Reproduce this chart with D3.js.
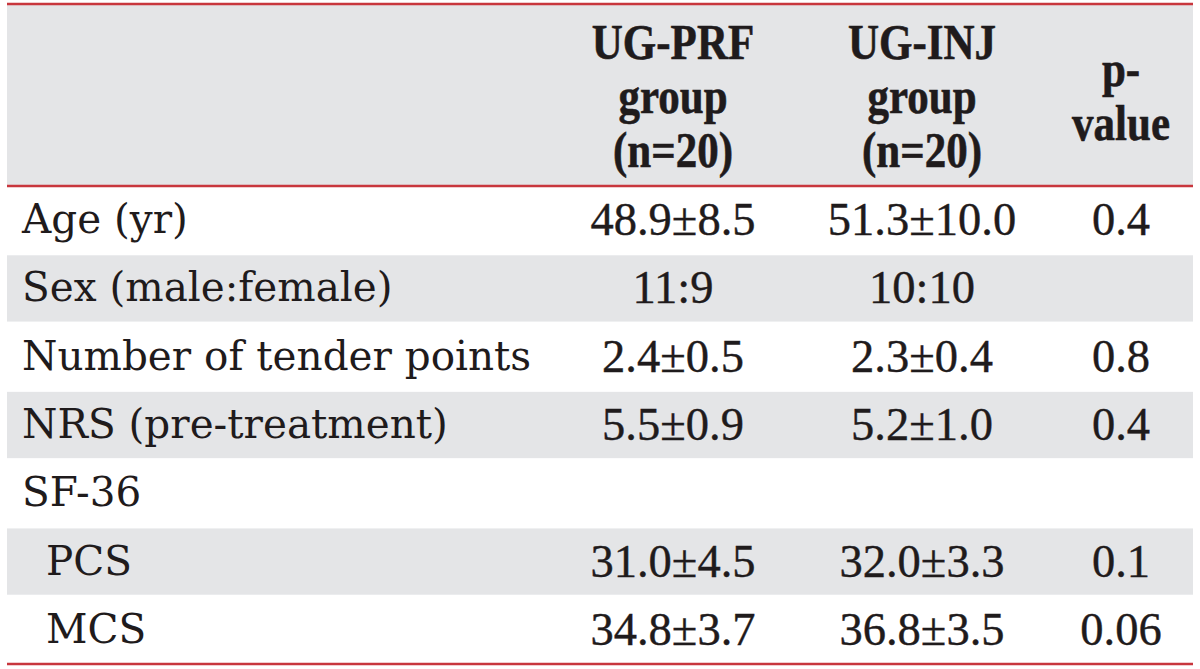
<!DOCTYPE html>
<html>
<head>
<meta charset="utf-8">
<script src="https://cdn.jsdelivr.net/npm/d3@7"></script>
<style>
  html, body { margin: 0; padding: 0; background: #ffffff; }
  svg { display: block; }
</style>
</head>
<body>
<svg id="chart" width="1200" height="669"></svg>
<script>
// ---- data ----
const rowLabels = ["Age (yr)", "Sex (male:female)", "Number of tender points", "NRS (pre-treatment)", "SF-36", "PCS", "MCS"];
const subRows = ["PCS", "MCS"];
const prfGroup = ["48.9±8.5", "11:9", "2.4±0.5", "5.5±0.9", "", "31.0±4.5", "34.8±3.7"];
const injGroup = ["51.3±10.0", "10:10", "2.3±0.4", "5.2±1.0", "", "32.0±3.3", "36.8±3.5"];
const pValues = ["0.4", "", "0.8", "0.4", "", "0.1", "0.06"];
const columnKeys = ["prf", "inj", "p"];
const headerLines = [["UG-PRF", "group", "(n=20)"], ["UG-INJ", "group", "(n=20)"], ["p-", "value"]];

// ---- layout ----
const svg = d3.select("#chart");
const left = 7, right = 1193;
const headerTop = 4, headerBottom = 186, tableBottom = 664;
const gray = "#e4e5e7", red = "#c8363d", ink = "#1f1b1c";

const yRow = d3.scaleBand().domain(d3.range(rowLabels.length)).range([headerBottom, tableBottom]).padding(0);
const xCol = d3.scaleOrdinal().domain(columnKeys).range([673, 922, 1121]);

// header background
svg.append("rect").attr("x", left).attr("y", headerTop).attr("width", right - left)
  .attr("height", headerBottom - headerTop).attr("fill", gray);

// body row backgrounds (alternate)
svg.append("g").selectAll("rect").data(rowLabels).join("rect")
  .attr("x", left).attr("width", right - left)
  .attr("y", (d, i) => yRow(i) + 1).attr("height", yRow.bandwidth() - 2)
  .attr("fill", (d, i) => i % 2 === 1 ? gray : "#ffffff");

// header text (condensed bold)
const headerLineH = 54;
const headerCenter = (headerTop + headerBottom) / 2;
const hScale = 0.86;
const hg = svg.append("g").attr("font-family", "'Liberation Serif', 'Times New Roman', serif")
  .attr("font-weight", "bold").attr("font-size", 50).attr("fill", ink).attr("text-anchor", "middle")
  .attr("stroke", ink).attr("stroke-width", 0.6);
headerLines.forEach((lines, ci) => {
  const n = lines.length;
  const cx = xCol(columnKeys[ci]);
  hg.selectAll(null).data(lines).join("text")
    .attr("transform", (d, li) => `translate(${cx},${headerCenter + 18 + (li - (n - 1) / 2) * headerLineH}) scale(${hScale},1)`)
    .text(d => d);
});

// row labels
svg.append("g").attr("font-family", "'DejaVu Serif', serif").attr("font-size", 40.5).attr("fill", ink)
  .selectAll("text").data(rowLabels).join("text")
  .attr("x", d => subRows.includes(d) ? 46 : 22)
  .attr("y", (d, i) => yRow(i) + yRow.bandwidth() / 2 + 13)
  .text(d => d);

// values
const cols = [prfGroup, injGroup, pValues];
const vg = svg.append("g").attr("font-family", "'Liberation Serif', 'Times New Roman', serif")
  .attr("font-size", 46.5).attr("fill", ink).attr("text-anchor", "middle")
  .attr("stroke", ink).attr("stroke-width", 0.4);
cols.forEach((vals, ci) => {
  vg.selectAll(null).data(vals).join("text")
    .attr("x", xCol(columnKeys[ci]))
    .attr("y", (d, i) => yRow(i) + yRow.bandwidth() / 2 + 15)
    .text(d => d);
});

// red rules
const rules = [headerTop, headerBottom, tableBottom];
svg.append("g").selectAll("line").data(rules).join("line")
  .attr("x1", left).attr("x2", right)
  .attr("y1", d => d).attr("y2", d => d)
  .attr("stroke", red).attr("stroke-width", 2.6);
</script>
</body>
</html>
